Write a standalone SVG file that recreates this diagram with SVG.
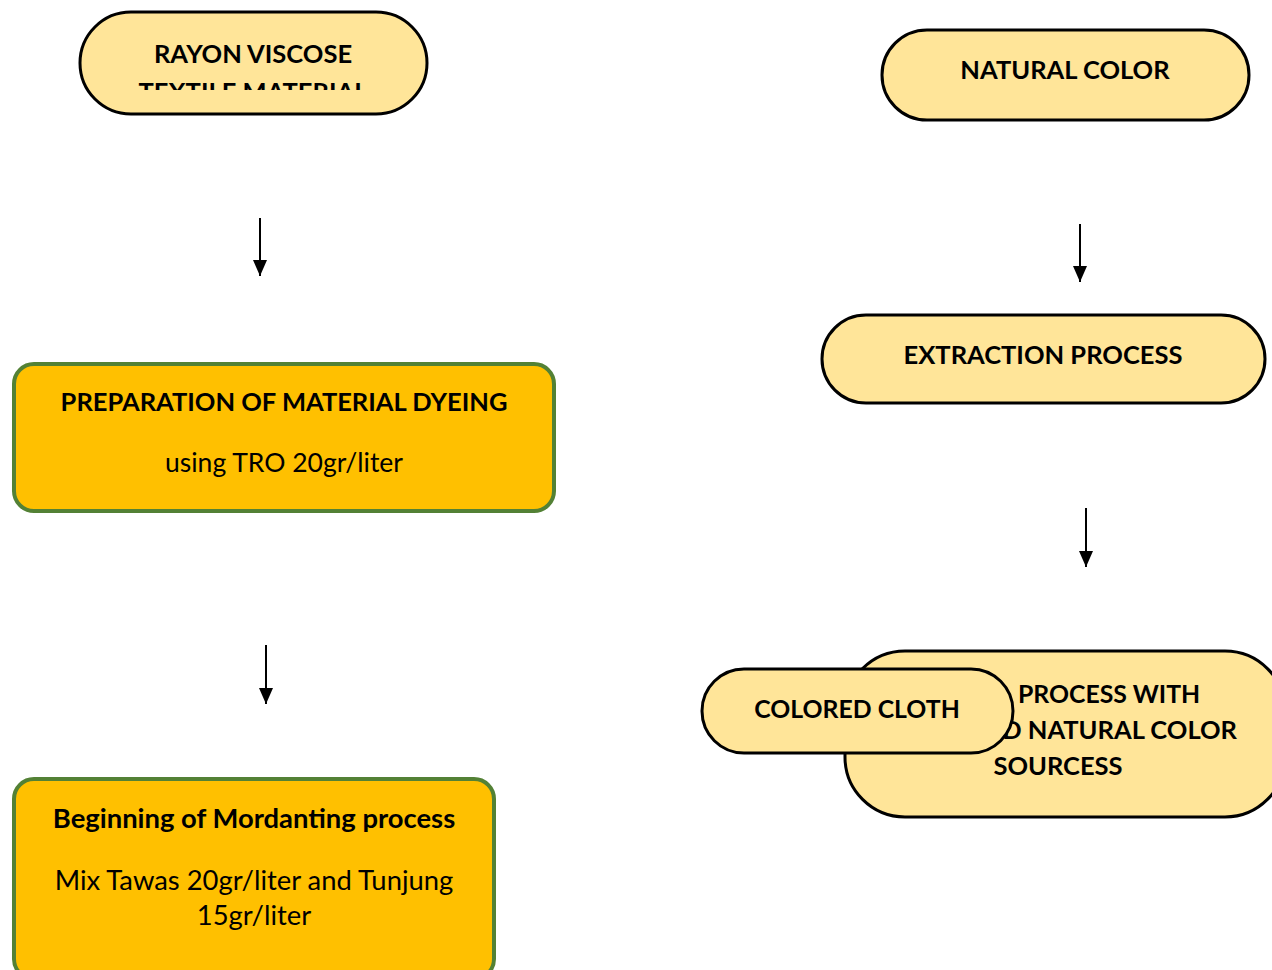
<svg xmlns="http://www.w3.org/2000/svg" width="1272" height="970" viewBox="0 0 1272 970">
<style>
.pill{fill:#FFE599;stroke:#000;stroke-width:3}
.box{fill:#FFC000;stroke:#538135;stroke-width:4}
text{font-family:Lato,"Open Sans","Liberation Sans",sans-serif;font-size:26.5px;fill:#000;text-anchor:middle}
.b{font-weight:bold;font-size:25.5px}
.e{text-anchor:end}
.s{text-anchor:start}
.conn line{stroke:#000;stroke-width:2}
</style>
<defs>
<marker id="ah" markerWidth="16" markerHeight="14" refX="16" refY="7" orient="auto" markerUnits="userSpaceOnUse" viewBox="0 0 16 14"><path d="M0,0 L16,7 L0,14 Z" fill="#000"/></marker>
<clipPath id="c1"><rect x="80" y="12" width="347" height="78"/></clipPath>
</defs>
<rect width="1272" height="970" fill="#fff"/>
<g id="rayon">
<rect class="pill" x="80" y="12" width="347" height="102" rx="51"/>
<g clip-path="url(#c1)">
<text class="b" x="253" y="63">RAYON VISCOSE</text>
<text class="b" x="253" y="101">TEXTILE MATERIAL</text>
</g>
</g>
<g id="preparation">
<rect class="box" x="14" y="364" width="540" height="147" rx="20"/>
<text class="b" x="284" y="411">PREPARATION OF MATERIAL DYEING</text>
<text x="284" y="472">using TRO 20gr/liter</text>
</g>
<g id="mordanting">
<rect class="box" x="14" y="779" width="480" height="200" rx="20"/>
<text class="b" x="254" y="828" style="font-size:27.4px">Beginning of Mordanting process</text>
<text x="254" y="890" style="font-size:27.4px">Mix Tawas 20gr/liter and Tunjung</text>
<text x="254" y="925" style="font-size:27.4px">15gr/liter</text>
</g>
<g id="natural">
<rect class="pill" x="882" y="30" width="367" height="90" rx="45"/>
<text class="b" x="1065" y="79">NATURAL COLOR</text>
</g>
<g id="extraction">
<rect class="pill" x="822" y="315" width="443" height="88" rx="44"/>
<text class="b" x="1043" y="364">EXTRACTION PROCESS</text>
</g>
<g id="dyeing">
<rect class="pill" x="845" y="651" width="440" height="166" rx="60"/>
<text class="b s" x="1018" y="703" style="font-size:24.8px">PROCESS WITH</text>
<text class="b e" x="1237" y="739">D NATURAL COLOR</text>
<text class="b" x="1058" y="775">SOURCESS</text>
</g>
<g id="colored">
<rect class="pill" x="702" y="669" width="311" height="84" rx="42"/>
<text class="b" x="857" y="718" style="font-size:24.8px">COLORED CLOTH</text>
</g>
<g class="conn" id="connectors">
<line x1="260" y1="218" x2="260" y2="276" marker-end="url(#ah)"/>
<line x1="266" y1="645" x2="266" y2="704" marker-end="url(#ah)"/>
<line x1="1080" y1="224" x2="1080" y2="282" marker-end="url(#ah)"/>
<line x1="1086" y1="508" x2="1086" y2="567" marker-end="url(#ah)"/>
</g>
</svg>
